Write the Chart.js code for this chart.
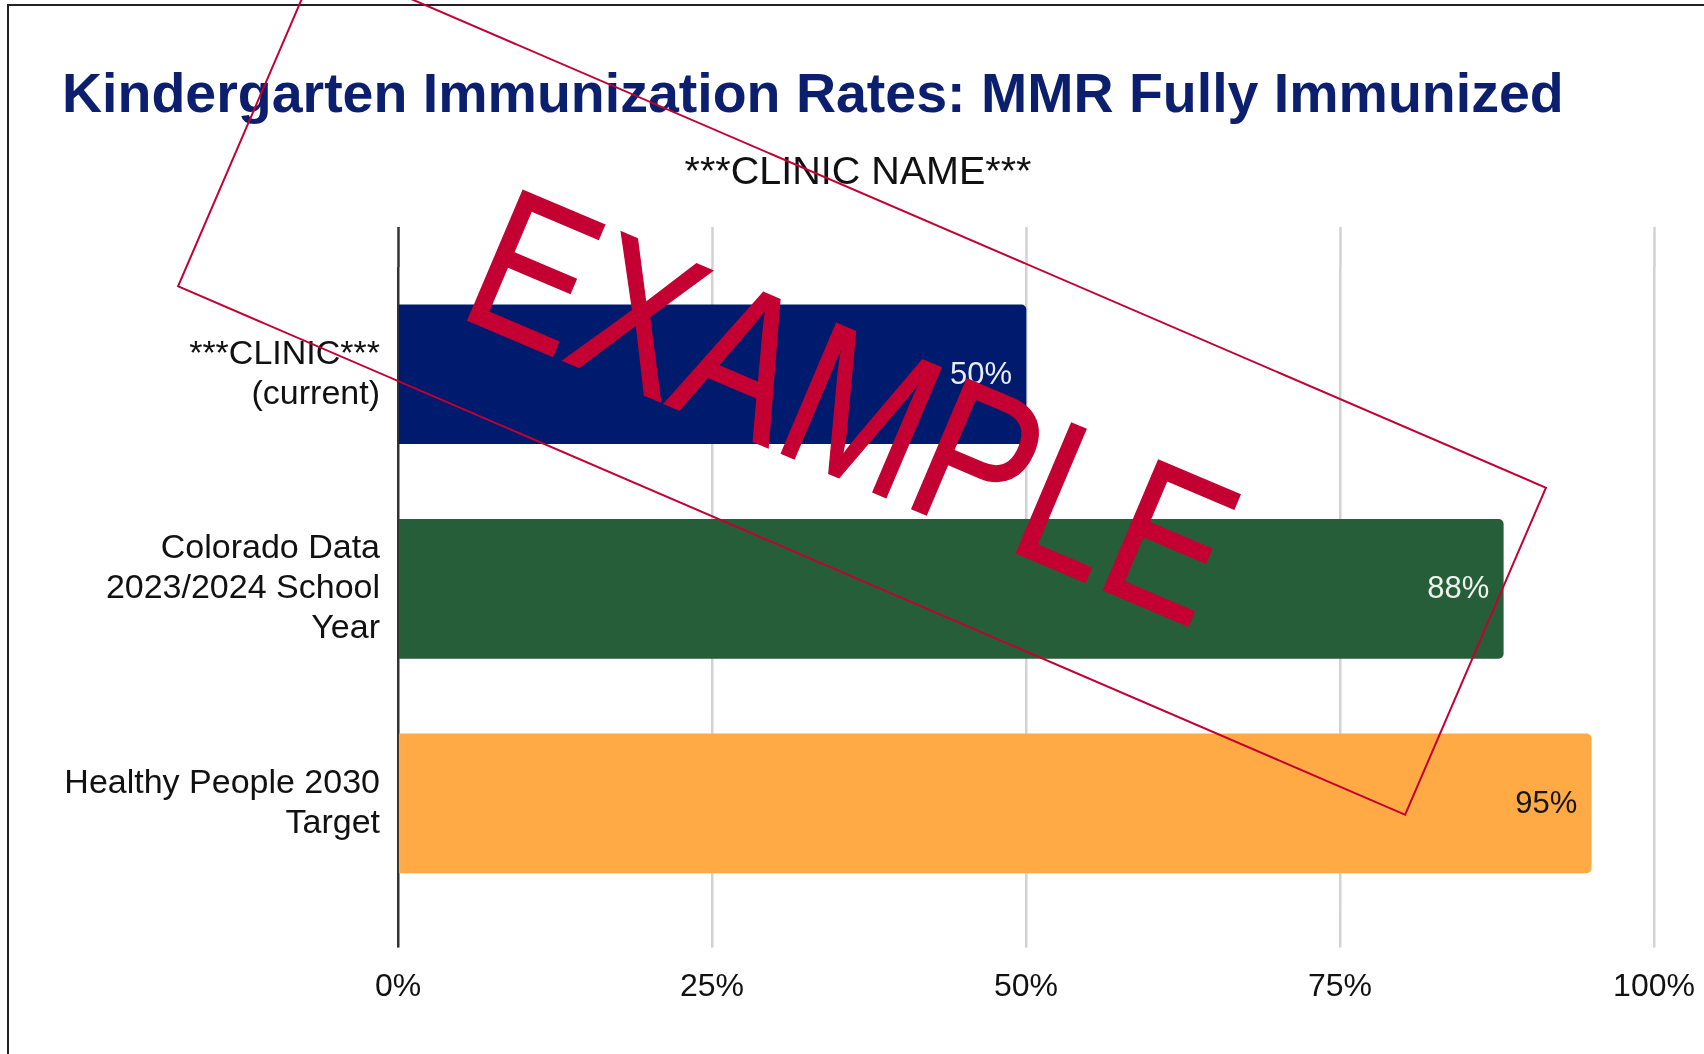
<!DOCTYPE html>
<html>
<head>
<meta charset="utf-8">
<title>Kindergarten Immunization Rates: MMR Fully Immunized</title>
<script src="https://cdn.jsdelivr.net/npm/chart.js@4.4.1/dist/chart.umd.min.js"></script>
<style>
  html, body { margin: 0; padding: 0; background: #fff; overflow: hidden; }
  #wrap { position: relative; width: 1704px; height: 1054px; }
  #frame {
    position: absolute; left: 7px; top: 4px; width: 2000px; height: 2000px;
    border-top: 2px solid #222; border-left: 2px solid #222; pointer-events: none;
  }
  #stamp-box {
    position: absolute; left: 193px; top: 208px; width: 1338px; height: 358px;
    box-sizing: border-box; border: 2px solid #c40033;
    transform: rotate(23.3deg); transform-origin: 50% 50%; pointer-events: none;
  }
  #stamp-text {
    position: absolute; left: 853px; top: 406px;
    font-family: 'Liberation Sans', Arial, sans-serif; font-size: 205px; line-height: 1;
    color: #c40033; -webkit-text-stroke: 1.5px #c40033; white-space: nowrap; pointer-events: none;
    transform: translate(-50%, -50%) rotate(23deg) scaleX(0.83);
  }
</style>
</head>
<body>
<div id="wrap">
  <canvas id="chart" width="1704" height="1054"></canvas>
  <div id="frame"></div>
  <div id="stamp-box"></div>
  <div id="stamp-text">EXAMPLE</div>
</div>
<script>
// data
const categories = [
  ['***CLINIC***', '(current)'],
  ['Colorado Data', '2023/2024 School', 'Year'],
  ['Healthy People 2030', 'Target'],
];
const rates      = [50, 88, 95];
const barColors  = ['#001a6e', '#265e3a', '#ffaa44'];
const labelInk   = ['#e9edf6', '#eef3ee', '#151515'];
const tickValues = [0, 25, 50, 75, 100];

const FONT = "'Liberation Sans', Arial, sans-serif";
const GRID = '#d2d2d2';
const AXIS = '#333333';

// value labels at the end of each bar
const barLabels = {
  id: 'barLabels',
  afterDatasetsDraw(chart) {
    const { ctx } = chart;
    const meta = chart.getDatasetMeta(0);
    ctx.save();
    ctx.font = `31px ${FONT}`;
    ctx.textAlign = 'right';
    ctx.textBaseline = 'middle';
    meta.data.forEach((bar, i) => {
      ctx.fillStyle = labelInk[i];
      ctx.fillText(`${rates[i]}%`, bar.x - 14, bar.y + 1);
    });
    ctx.restore();
  },
};

const lineColor = c => (c.tick && c.tick.value === 0 ? AXIS : GRID);

new Chart(document.getElementById('chart'), {
  type: 'bar',
  data: {
    labels: categories,
    datasets: [{
      data: rates,
      backgroundColor: barColors,
      barThickness: 139,
      borderRadius: 5,
      borderSkipped: 'start',
    }],
  },
  options: {
    indexAxis: 'y',
    responsive: false,
    animation: false,
    layout: { padding: { top: 0, left: 62, right: 50, bottom: 28 } },
    plugins: {
      legend: { display: false },
      tooltip: { enabled: false },
      title: {
        display: true,
        text: 'Kindergarten Immunization Rates: MMR Fully Immunized',
        align: 'start',
        color: '#0b1f6e',
        font: { family: FONT, size: 55.5, weight: 'bold', lineHeight: 1.2 },
        padding: { top: 63, bottom: 0 },
      },
      subtitle: {
        display: true,
        text: '***CLINIC NAME***',
        color: '#111',
        font: { family: FONT, size: 39.5, lineHeight: 1.2 },
        padding: { top: 20, bottom: 30 },
      },
    },
    scales: {
      x: {
        min: 0, max: 100,
        afterBuildTicks: s => { s.ticks = tickValues.map(v => ({ value: v })); },
        // let "100%" hang into the right margin instead of shrinking the plot
        afterFit: s => { s.paddingRight = 0; },
        ticks: {
          color: '#111', padding: 20,
          font: { family: FONT, size: 32, lineHeight: 1.2 },
          callback: v => `${v}%`,
        },
        grid: { color: lineColor, tickColor: lineColor, lineWidth: 2.5, tickLength: 37 },
        border: { display: false },
      },
      x2: {
        type: 'linear', position: 'top',
        min: 0, max: 100,
        afterBuildTicks: s => { s.ticks = tickValues.map(v => ({ value: v })); },
        ticks: { display: false },
        grid: { drawOnChartArea: false, tickColor: lineColor, tickWidth: 2.5, tickLength: 40 },
        border: { display: false },
      },
      y: {
        afterFit: s => { s.width = 398 - 62; },
        ticks: {
          color: '#111', padding: 18,
          font: { family: FONT, size: 34, lineHeight: 1.18 },
        },
        grid: { display: false, drawTicks: false },
        border: { display: false },
      },
    },
  },
  plugins: [barLabels],
});
</script>
</body>
</html>
